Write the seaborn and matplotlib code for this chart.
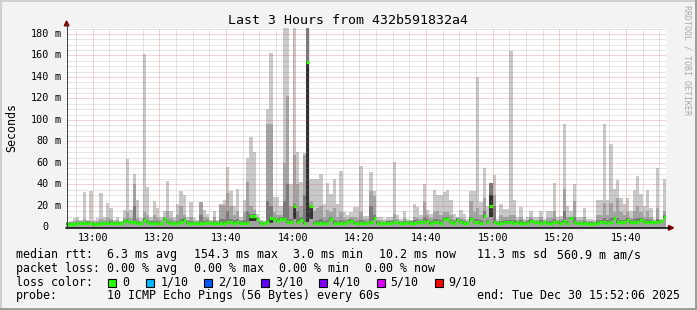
import numpy as np
import pandas as pd
import matplotlib
matplotlib.use("Agg")
import matplotlib.pyplot as plt
import matplotlib.transforms as mtransforms
from matplotlib.patches import Rectangle, Polygon
from matplotlib.lines import Line2D
import seaborn as sns

# ---------------- data (one value per minute, starting 12:52) ----------------
minute_index = list(range(180))

rtt_max = [5, 6, 9, 10, 7, 33, 7, 34, 7, 9,
           32, 10, 23, 18, 7, 10, 6, 16, 64, 16,
           50, 26, 9, 161, 38, 10, 25, 18, 10, 15,
           43, 15, 10, 22, 34, 30, 10, 24, 9, 7,
           24, 16, 13, 7, 15, 7, 22, 26, 56, 34,
           20, 36, 10, 26, 65, 84, 70, 13, 7, 6,
           110, 162, 28, 28, 20, 200, 200, 40, 200, 70,
           42, 69, 200, 45, 45, 45, 50, 22, 41, 31,
           45, 22, 53, 14, 12, 14, 19, 19, 57, 11,
           11, 52, 34, 10, 10, 8, 10, 10, 61, 12,
           8, 15, 8, 7, 22, 19, 12, 40, 16, 13,
           35, 30, 30, 33, 35, 26, 13, 10, 16, 13,
           8, 34, 34, 140, 24, 55, 20, 41, 49, 8,
           22, 17, 17, 164, 26, 10, 19, 8, 10, 15,
           10, 10, 15, 8, 15, 15, 41, 10, 11, 96,
           20, 15, 40, 10, 10, 18, 8, 8, 7, 26,
           26, 96, 26, 78, 36, 44, 27, 22, 27, 15,
           35, 48, 31, 20, 35, 18, 8, 55, 8, 45]

rtt_p8 = [4.5, 5, 6, 7, 6, 8, 6, 6, 5, 6,
          8, 7, 9, 8, 6, 7, 5, 9, 14, 9,
          40, 9, 6, 14, 12, 7, 12, 9, 7, 10,
          15, 9, 7, 12, 20, 12, 7, 10, 6, 6,
          24, 10, 9, 6, 10, 6, 21, 21, 32, 20,
          12, 15, 7, 14, 42, 20, 16, 10, 6, 5,
          96, 96, 14, 12, 12, 60, 122, 20, 67, 40,
          20, 67, 200, 25, 15, 18, 20, 10, 16, 14,
          18, 10, 14, 9, 8, 10, 10, 9, 14, 8,
          8, 34, 29, 7, 7, 6, 7, 7, 13, 8,
          6, 9, 6, 6, 10, 9, 8, 24, 12, 9,
          14, 15, 12, 14, 14, 12, 8, 9, 9, 8,
          6, 25, 14, 18, 12, 27, 10, 41, 30, 6,
          12, 10, 10, 12, 12, 7, 10, 6, 7, 10,
          7, 7, 10, 6, 9, 9, 15, 7, 8, 36,
          10, 10, 25, 7, 7, 10, 6, 6, 5, 12,
          12, 23, 12, 23, 14, 27, 14, 12, 14, 9,
          15, 20, 14, 10, 15, 10, 6, 18, 6, 15]

rtt_p7 = [4, 4, 4.5, 5, 5, 5.5, 6, 5, 4.5, 4.5,
          5, 5, 5, 6, 5, 5, 5, 7, 8, 6,
          20, 6, 5, 9, 7, 6, 6, 6, 5, 9,
          7, 6, 5, 6, 8, 9, 6, 6, 5, 5,
          12, 6, 7, 5, 6, 5, 8, 8, 15, 8,
          7, 8, 6, 7, 15, 13, 13, 9, 5, 5,
          25, 20, 10, 8, 10, 25, 40, 8, 22, 15,
          10, 30, 200, 20, 6, 7, 8, 6, 7, 10,
          7, 6, 7, 6, 7, 8, 6, 6, 7, 6,
          5, 20, 12, 6, 5, 5, 6, 6, 7, 6,
          5, 6, 6, 6, 7, 7, 6, 10, 8, 6,
          8, 8, 7, 10, 10, 7, 6, 9, 7, 6,
          5, 10, 8, 8, 7, 15, 7, 41, 20, 5,
          6, 7, 7, 7, 7, 6, 7, 5, 6, 8,
          6, 6, 7, 6, 6, 6, 8, 6, 6, 15,
          6, 9, 10, 5, 5, 6, 5, 5, 5, 7,
          7, 9, 7, 9, 10, 9, 7, 7, 9, 7,
          8, 9, 9, 7, 8, 7, 6, 8, 7, 12]

rtt_p6 = [3.8, 3.8, 4, 4.5, 4.5, 5, 5.5, 4.5, 4, 4,
          4.5, 4.5, 4.5, 5, 4.5, 4.5, 4.5, 6.5, 7, 5.5,
          6, 5, 4.5, 8, 5.5, 5, 4.5, 5, 4.5, 8.5,
          5.5, 5, 4.5, 4.5, 5.5, 8, 5, 4.5, 4.5, 4.5,
          5, 4.5, 5.5, 4.5, 4.5, 4.5, 5, 5, 6, 5.5,
          5, 5.5, 5, 4.5, 5, 12, 12, 8.5, 4.5, 4.5,
          6.5, 10, 9, 7, 9, 9, 5.5, 5.5, 20, 6,
          8, 5, 154, 20, 4.5, 4.5, 5, 4.5, 4.5, 8.5,
          5, 4.5, 4.5, 5, 5.5, 7, 5, 4.5, 4.5, 5,
          4.5, 6, 10, 5, 4.5, 4.5, 5, 5, 5.5, 5.5,
          5, 4.5, 5.5, 5, 4.5, 5.5, 5.5, 5.5, 7, 5,
          5.5, 5.5, 5, 9, 9, 5.5, 5, 8, 5.5, 5,
          4.5, 8.5, 5.5, 5.5, 5, 12, 5.5, 30, 6, 4.5,
          4.5, 5.5, 5.5, 5.5, 5, 5.5, 5, 5, 5, 7,
          5.5, 5.5, 5, 5.5, 5, 5, 5.5, 5.5, 5, 6,
          5, 8.5, 6, 4.5, 4.5, 4.5, 4.5, 4, 4.5, 5,
          5.5, 5.5, 5, 5.5, 9, 6, 5.5, 5.5, 7.5, 6,
          5.5, 6, 7.5, 5.5, 5.5, 6, 5.5, 5.5, 6.5, 11]

rtt_p4 = [2.5, 2.5, 2.5, 3, 3, 3.5, 3, 3, 2.5, 2.5,
          3, 3, 3, 3.5, 3, 3, 3, 5, 5, 4,
          4, 3.5, 3, 6, 4, 3.5, 3, 3.5, 3, 7,
          4, 3.5, 3, 3, 4, 6, 3.5, 3, 3, 3,
          3, 3, 4, 3, 3, 3, 3.5, 3.5, 4, 4,
          3.5, 4, 3.5, 3, 3.5, 6, 6, 7, 3, 3,
          4, 4, 7, 5.5, 7, 7, 4, 4, 8, 4,
          6, 3.5, 5, 8, 3, 3, 3.5, 3, 3, 7,
          3.5, 3, 3, 3.5, 4, 5.5, 3.5, 3, 3, 3.5,
          3, 4, 7, 3.5, 3, 3, 3.5, 3.5, 4, 4,
          3.5, 3, 4, 3.5, 3, 4, 4, 4, 5, 3.5,
          4, 4, 3.5, 7, 7, 4, 3.5, 6, 4, 3.5,
          3, 6.5, 4, 4, 3.5, 9, 4, 10, 4, 3,
          3, 4, 4, 4, 3.5, 4, 3.5, 3.5, 3.5, 5.5,
          4, 4, 3.5, 4, 3.5, 3.5, 4, 4, 3.5, 5,
          3.5, 7.5, 4, 3, 3, 3, 3, 2.5, 3, 3.5,
          4, 4, 3.5, 4, 7.5, 4.5, 4, 4, 6, 4.5,
          4, 4.5, 6, 4, 4, 4.5, 4, 4, 5, 9]

rtt_median = [3.5, 3.5, 3.5, 4, 4, 4.5, 4, 4, 3.5, 3.5,
              4, 4, 4, 4.5, 4, 4, 4, 6, 6, 5,
              5, 4.5, 4, 7, 5, 4.5, 4, 4.5, 4, 8,
              5, 4.5, 4, 4, 5, 7, 4.5, 4, 4, 4,
              4, 4, 5, 4, 4, 4, 4.5, 4.5, 5, 5,
              4.5, 5, 4.5, 4, 4.5, 11, 11, 8, 4, 4,
              5.5, 9, 8, 6.5, 8, 8, 5, 5, 20, 5,
              7, 4.5, 154, 20, 4, 4, 4.5, 4, 4, 8,
              4.5, 4, 4, 4.5, 5, 6.5, 4.5, 4, 4, 4.5,
              4, 5, 9, 4.5, 4, 4, 4.5, 4.5, 5, 5,
              4.5, 4, 5, 4.5, 4, 5, 5, 5, 6, 4.5,
              5, 5, 4.5, 8, 8, 5, 4.5, 7, 5, 4.5,
              4, 7.5, 5, 5, 4.5, 11, 5, 20, 5, 4,
              4, 5, 5, 5, 4.5, 5, 4.5, 4.5, 4.5, 6.5,
              5, 5, 4.5, 5, 4.5, 4.5, 5, 5, 4.5, 6,
              4.5, 8.5, 5, 4, 4, 4, 4, 3.5, 4, 4.5,
              5, 5, 4.5, 5, 8.5, 5.5, 5, 5, 7, 5.5,
              5, 5.5, 7, 5, 5, 5.5, 5, 5, 6, 10]

x_tick_minutes = [8, 28, 48, 68, 88, 108, 128, 148, 168]
x_tick_labels = ["13:00", "13:20", "13:40", "14:00", "14:20", "14:40",
                 "15:00", "15:20", "15:40"]
y_tick_values = [0, 20, 40, 60, 80, 100, 120, 140, 160, 180]

title = "Last 3 Hours from 432b591832a4"
stats_rtt = ["median rtt:", "6.3 ms avg", "154.3 ms max", "3.0 ms min",
             "10.2 ms now", "11.3 ms sd", "560.9 m am/s"]
stats_loss = ["packet loss:", "0.00 % avg", "0.00 % max", "0.00 % min", "0.00 % now"]
loss_labels = ["0", "1/10", "2/10", "3/10", "4/10", "5/10", "9/10"]
loss_colors = ["#26ff00", "#00b8ff", "#0059ff", "#5e00ff", "#7e00ff", "#dd00ff", "#ff0000"]
probe_text = "10 ICMP Echo Pings (56 Bytes) every 60s"
end_text = "end: Tue Dec 30 15:52:06 2025"

# ---------------- figure ----------------
sns.set_theme(style="white")
plt.rcParams['font.family'] = ['DejaVu Sans Mono']
plt.rcParams['text.color'] = 'black'

W, H = 697, 310
fig = plt.figure(figsize=(W / 100, H / 100), dpi=100, facecolor='#f3f3f3')


def fx(px):
    return px / W


def fy(py):
    return 1 - py / H


AX_L, AX_R, AX_T, AX_B = 66.4, 666.4, 27.5, 227.5
ax = fig.add_axes([fx(AX_L), fy(AX_B), (AX_R - AX_L) / W, (AX_B - AX_T) / H])
ax.set_facecolor('white')

df = pd.DataFrame({"minute": np.array(minute_index) + 0.5,
                   "max": rtt_max, "p8": rtt_p8})
for col, colr in [("max", "#c9c9c9"), ("p8", "#a3a3a3")]:
    sns.histplot(data=df, x="minute", weights=col, binwidth=1, binrange=(0, 180),
                 element="step", fill=True, color=colr, alpha=1, linewidth=0,
                 edgecolor="none", ax=ax, zorder=2)

xs = np.array(minute_index + [minute_index[-1] + 1])
p4_ext = np.append(rtt_p4, rtt_p4[-1])
p7_ext = np.append(rtt_p7, rtt_p7[-1])
p6_ext = np.append(rtt_p6, rtt_p6[-1])
ax.fill_between(xs, p4_ext, p7_ext, step="post", color="#7a7a7a", lw=0, zorder=3)
ax.fill_between(xs, p4_ext, p6_ext, step="post", color="#303030", lw=0, zorder=3)

ax.hlines(rtt_median, np.array(minute_index), np.array(minute_index) + 1,
          colors="#26ff00", linewidths=2.4, zorder=4)

ax.set_xlim(0.1, 180.1)
ax.set_ylim(0, 186)
ax.set_xlabel("")
ax.set_ylabel("")
ax.set_xticks([])
ax.set_yticks([])
for s in ax.spines.values():
    s.set_visible(False)

# grid
grid_c = (0.56, 0.56, 0.56, 0.45)
mgrid_c = (0.87, 0.31, 0.31, 0.5)
gkw = dict(linewidth=0.72, linestyle=(0, (1, 1)), zorder=6)
for v in range(5, 186, 5):
    ax.axhline(v, color=mgrid_c if v % 20 == 0 else grid_c, **gkw)
for m in range(3, 180, 5):
    ax.axvline(m, color=mgrid_c if (m - 8) % 20 == 0 else grid_c, **gkw)

# tick labels
tx = mtransforms.blended_transform_factory(ax.transData, ax.transAxes)
for m, lab in zip(x_tick_minutes, x_tick_labels):
    ax.text(m, (AX_B - 241.0) / 200, lab, transform=tx, ha="center",
            va="baseline", fontsize=7.3, clip_on=False)
ty = mtransforms.blended_transform_factory(ax.transAxes, ax.transData)
for v in y_tick_values:
    ax.text((48.8 - AX_L) / 600, v, str(v), transform=ty, ha="right",
            va="center", fontsize=7.3, clip_on=False)
    if v != 0:
        ax.text((54.9 - AX_L) / 600, v, "m", transform=ty, ha="left",
                va="center", fontsize=7.3, clip_on=False)

# axes lines and arrows
fig.add_artist(Line2D([fx(66.6), fx(66.6)], [fy(228), fy(23)], color="#404040", lw=0.75))
fig.add_artist(Line2D([fx(66), fx(669)], [fy(227.8), fy(227.8)], color="#101010", lw=1.2))
fig.add_artist(Polygon([[fx(64.3), fy(25.8)], [fx(69.0), fy(25.8)], [fx(66.6), fy(21.0)]],
                       closed=True, color="#7f0000", transform=fig.transFigure))
fig.add_artist(Polygon([[fx(668.5), fy(225.4)], [fx(668.5), fy(230.2)], [fx(673.5), fy(227.8)]],
                       closed=True, color="#7f0000", transform=fig.transFigure))

# titles
fig.text(fx(347.8), fy(24.0), title, ha="center", va="baseline", fontsize=9.5)
fig.text(fx(11.5), fy(127.5), "Seconds", rotation=90, ha="center", va="center", fontsize=8.35)
fig.text(fx(687.5), fy(60), "RRDTOOL / TOBI OETIKER", rotation=-90, ha="center",
         va="center", fontsize=6.0, color="#a8a8a8")

# legend
LFS = 8.35
row_y = [258.3, 272.0, 285.7, 299.4]
for xpx, t in zip([16.0, 107.2, 193.8, 292.9, 378.6, 477.4, 557.4], stats_rtt):
    fig.text(fx(xpx), fy(row_y[0]), t, ha="left", va="baseline", fontsize=LFS)
for xpx, t in zip([16.0, 107.2, 193.8, 278.6, 364.9], stats_loss):
    fig.text(fx(xpx), fy(row_y[1]), t, ha="left", va="baseline", fontsize=LFS)
fig.text(fx(16.0), fy(row_y[2]), "loss color:", ha="left", va="baseline", fontsize=LFS)
box_x = [108.4, 145.8, 203.6, 261.3, 319.0, 376.9, 434.7]
lab_x = [122.7, 160.5, 217.8, 275.6, 332.9, 390.7, 448.5]
for bx, lx, c, t in zip(box_x, lab_x, loss_colors, loss_labels):
    fig.add_artist(Rectangle((fx(bx), fy(286.5)), 8 / W, 8 / H, transform=fig.transFigure,
                             facecolor=c, edgecolor="black", lw=0.8))
    fig.text(fx(lx), fy(row_y[2]), t, ha="left", va="baseline", fontsize=LFS)
fig.text(fx(16.0), fy(row_y[3]), "probe:", ha="left", va="baseline", fontsize=LFS)
fig.text(fx(107.2), fy(row_y[3]), probe_text, ha="left", va="baseline", fontsize=LFS)
fig.text(fx(477.4), fy(row_y[3]), end_text, ha="left", va="baseline", fontsize=LFS)

# 3D frame
fig.add_artist(Rectangle((0, fy(2)), 1, 2 / H, transform=fig.transFigure, color="#cfcfcf", lw=0))
fig.add_artist(Rectangle((0, 0), 2 / W, 1, transform=fig.transFigure, color="#cfcfcf", lw=0))
fig.add_artist(Rectangle((0, 0), 1, 2 / H, transform=fig.transFigure, color="#9e9e9e", lw=0))
fig.add_artist(Rectangle((fx(695), 0), 2 / W, 1, transform=fig.transFigure, color="#9e9e9e", lw=0))

fig.savefig("out.png", dpi=100, facecolor=fig.get_facecolor())
